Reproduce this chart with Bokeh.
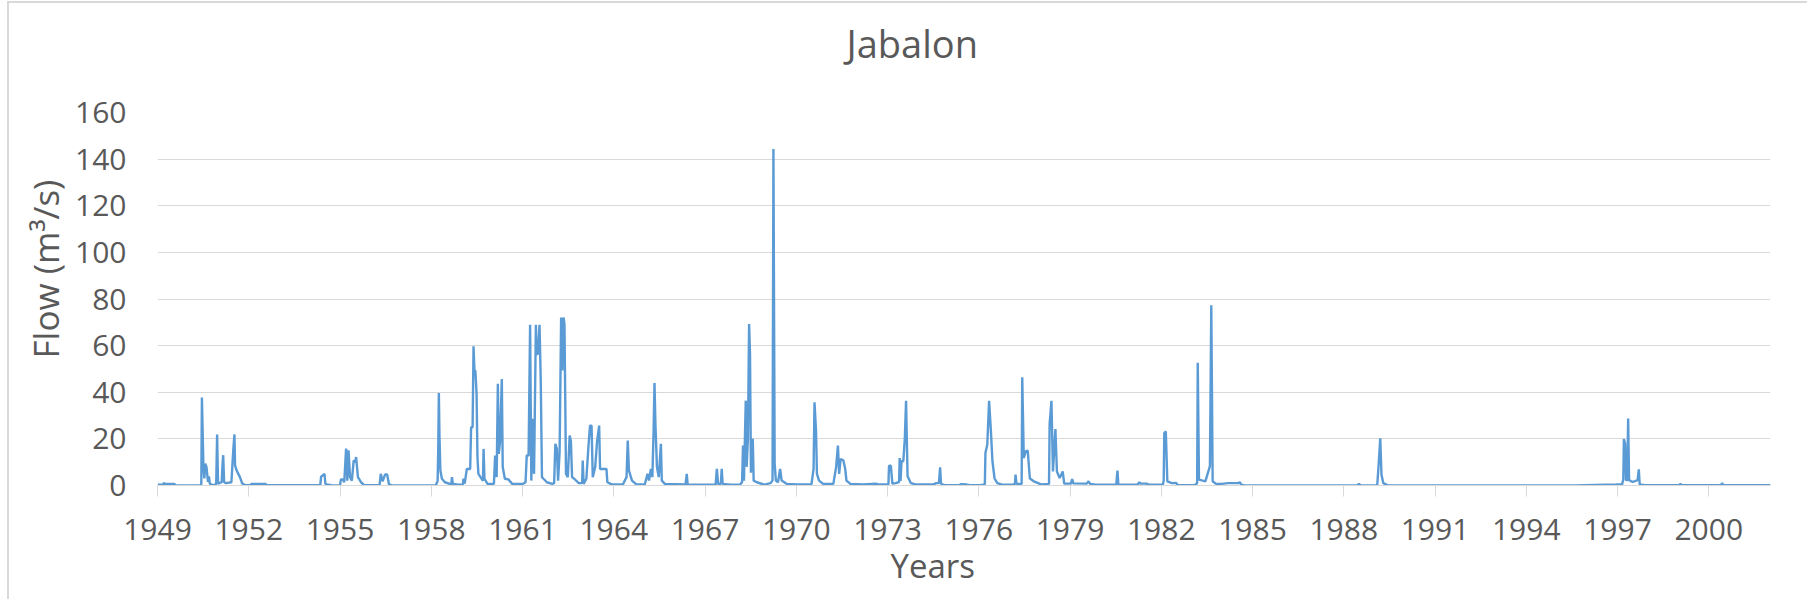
from bokeh.plotting import figure
from bokeh.models import Range1d, FixedTicker, Title
from bokeh.embed import file_html
from bokeh.resources import INLINE

# ---- data: decimal year and flow (m3/s), one event per row ----
years = [
    1949.00, 1949.18, 1949.20, 1949.25, 1949.55, 1949.60,
    1950.40, 1950.44, 1950.46, 1950.51, 1950.54, 1950.57, 1950.61, 1950.66, 1950.69, 1950.72, 1950.82,
    1950.93, 1950.96, 1950.99, 1951.11, 1951.14, 1951.16, 1951.19, 1951.25,
    1951.43, 1951.49, 1951.53, 1951.55, 1951.60, 1951.71, 1951.78, 1951.88,
    1952.05, 1952.09, 1952.55, 1952.60,
    1954.35, 1954.38, 1954.43, 1954.49, 1954.52, 1954.62, 1954.75,
    1955.00, 1955.03, 1955.09, 1955.14, 1955.20, 1955.24, 1955.28, 1955.33, 1955.39, 1955.45, 1955.49, 1955.53, 1955.59, 1955.69, 1955.80,
    1956.30, 1956.34, 1956.40, 1956.48, 1956.55, 1956.61, 1956.72,
    1958.15, 1958.21, 1958.23, 1958.25, 1958.27, 1958.30, 1958.35, 1958.45, 1958.66, 1958.68, 1958.71, 1958.90,
    1959.04, 1959.06, 1959.10, 1959.17, 1959.28, 1959.31, 1959.36, 1959.39, 1959.42, 1959.45, 1959.49, 1959.52, 1959.55, 1959.62, 1959.70, 1959.72, 1959.75, 1959.85,
    1960.06, 1960.10, 1960.15, 1960.19, 1960.22, 1960.26, 1960.32, 1960.35, 1960.42, 1960.54, 1960.66,
    1961.02, 1961.10, 1961.14, 1961.20, 1961.25, 1961.29, 1961.33, 1961.38, 1961.44, 1961.47, 1961.51, 1961.56, 1961.60, 1961.64, 1961.69, 1961.80,
    1961.98, 1962.04, 1962.08, 1962.13, 1962.17, 1962.22, 1962.27, 1962.31, 1962.35, 1962.38, 1962.43, 1962.49, 1962.55, 1962.59, 1962.63, 1962.70, 1962.85,
    1962.96, 1962.98, 1963.01, 1963.10, 1963.17, 1963.22, 1963.27, 1963.31, 1963.39, 1963.45, 1963.52, 1963.55, 1963.68, 1963.72, 1963.76, 1963.79, 1963.95,
    1964.30, 1964.42, 1964.46, 1964.50, 1964.60, 1964.75,
    1965.02, 1965.11, 1965.16, 1965.22, 1965.27, 1965.31, 1965.34, 1965.37, 1965.42, 1965.48, 1965.55, 1965.58, 1965.68,
    1966.36, 1966.40, 1966.43,
    1967.35, 1967.39, 1967.43, 1967.52, 1967.55, 1967.58, 1967.85,
    1968.15, 1968.22, 1968.25, 1968.28, 1968.34, 1968.37, 1968.41, 1968.45, 1968.48, 1968.51, 1968.57, 1968.60, 1968.70, 1968.95,
    1969.15, 1969.22, 1969.25, 1969.29, 1969.33, 1969.40, 1969.47, 1969.52, 1969.68, 1970.05,
    1970.50, 1970.57, 1970.60, 1970.65, 1970.68, 1970.75, 1970.88,
    1971.22, 1971.31, 1971.37, 1971.41, 1971.46, 1971.55, 1971.61, 1971.65, 1971.78,
    1972.20, 1972.62, 1972.70, 1972.95,
    1973.03, 1973.05, 1973.11, 1973.16, 1973.27, 1973.38, 1973.40, 1973.43, 1973.46, 1973.52, 1973.57, 1973.61, 1973.66, 1973.77, 1973.95,
    1974.50, 1974.60, 1974.69, 1974.73, 1974.76, 1974.90,
    1975.35, 1975.42, 1975.60, 1975.72,
    1976.05, 1976.20, 1976.22, 1976.28, 1976.34, 1976.40, 1976.45, 1976.52, 1976.61, 1976.80,
    1977.10, 1977.19, 1977.21, 1977.24, 1977.41, 1977.43, 1977.48, 1977.55, 1977.61, 1977.68, 1977.81,
    1978.05, 1978.31, 1978.33, 1978.39, 1978.44, 1978.52, 1978.57, 1978.66, 1978.76, 1978.81,
    1979.03, 1979.07, 1979.11, 1979.55, 1979.61, 1979.66, 1979.85,
    1980.52, 1980.56, 1980.59,
    1981.22, 1981.28, 1981.32, 1981.52, 1981.60,
    1982.05, 1982.08, 1982.10, 1982.15, 1982.20, 1982.35, 1982.49, 1982.55,
    1983.10, 1983.18, 1983.20, 1983.24, 1983.45, 1983.60, 1983.645, 1983.69, 1983.80, 1983.98,
    1984.20, 1984.54, 1984.58, 1984.63, 1984.75,
    1988.45, 1988.50, 1988.55,
    1989.10, 1989.14, 1989.20, 1989.24, 1989.30, 1989.45,
    1995.60, 1996.95, 1997.15, 1997.19, 1997.21, 1997.25, 1997.28, 1997.32, 1997.35, 1997.38, 1997.50, 1997.66, 1997.70, 1997.73, 1997.90,
    1999.02, 1999.07, 1999.12, 2000.40, 2000.44, 2000.48, 2002.03,
]
flow = [
    0.3, 0.3, 1.0, 0.7, 0.7, 0.1,
    0.05, 0.5, 37.7, 7.9, 3.0, 9.4, 8.0, 1.5, 3.9, 0.8, 0.1,
    0.6, 21.9, 0.8, 1.4, 9.4, 13.0, 1.4, 1.0,
    1.4, 15.0, 21.9, 8.6, 6.5, 3.6, 1.0, 0.1,
    0.1, 0.7, 0.7, 0.1,
    0.1, 3.9, 4.3, 5.0, 0.7, 0.3, 0.05,
    0.1, 2.6, 2.6, 1.4, 15.8, 2.1, 15.1, 3.6, 2.1, 10.8, 10.0, 12.2, 3.6, 1.4, 0.1,
    0.1, 5.0, 1.8, 4.7, 4.7, 0.5, 0.05,
    0.1, 2.0, 16.4, 39.7, 21.4, 6.4, 2.9, 1.4, 0.5, 3.6, 0.7, 0.3,
    0.5, 2.9, 0.8, 7.1, 7.1, 25.0, 25.0, 59.7, 49.3, 49.3, 39.3, 12.0, 5.0, 3.6, 2.0, 15.7, 2.9, 0.7,
    0.7, 12.9, 3.6, 43.6, 13.6, 18.6, 45.7, 7.9, 2.9, 2.6, 0.7,
    0.7, 1.4, 12.9, 12.9, 68.9, 2.1, 28.6, 5.0, 68.9, 56.4, 56.4, 68.9, 45.0, 3.6, 2.9, 1.4,
    0.7, 1.0, 17.9, 15.7, 2.1, 14.3, 72.1, 49.3, 72.1, 69.3, 5.0, 3.6, 21.4, 19.3, 3.6, 2.9, 1.0,
    1.0, 10.7, 0.7, 2.9, 17.1, 25.7, 25.7, 3.6, 7.9, 18.6, 25.7, 7.1, 7.1, 7.1, 7.1, 1.4, 0.4,
    0.4, 3.6, 19.3, 6.4, 2.1, 0.4,
    0.4, 5.0, 2.1, 7.1, 3.6, 23.6, 44.0, 26.4, 7.9, 3.6, 17.9, 2.1, 0.7,
    0.4, 5.0, 0.3,
    0.4, 7.1, 0.7, 0.7, 7.1, 0.7, 0.3,
    0.3, 1.5, 17.1, 2.0, 36.4, 8.0, 20.0, 69.3, 56.4, 5.5, 20.0, 2.1, 1.4, 0.4,
    1.0, 2.1, 144.3, 9.3, 2.1, 1.4, 7.1, 2.1, 0.7, 0.4,
    0.5, 7.1, 35.7, 23.6, 5.0, 2.1, 0.7,
    0.7, 7.9, 17.1, 5.0, 11.4, 10.7, 7.1, 2.1, 0.7,
    0.5, 0.8, 0.5, 0.4,
    0.4, 8.5, 8.5, 0.8, 1.0, 1.5, 11.8, 2.0, 10.4, 10.4, 20.3, 36.3, 4.0, 1.0, 0.4,
    0.4, 1.0, 1.1, 7.8, 0.7, 0.1,
    0.1, 0.6, 0.4, 0.1,
    0.1, 0.5, 14.0, 17.5, 36.3, 23.2, 10.4, 3.0, 1.0, 0.3,
    0.3, 0.7, 4.7, 0.7, 0.7, 46.4, 11.8, 14.7, 15.0, 3.0, 1.8,
    0.5, 0.7, 26.3, 36.3, 6.0, 24.2, 6.0, 3.2, 6.0, 0.8,
    0.8, 2.8, 0.9, 0.8, 1.8, 0.7, 0.3,
    0.3, 6.4, 0.3,
    0.3, 1.4, 0.8, 0.8, 0.3,
    0.3, 2.0, 22.5, 23.2, 1.8, 1.0, 1.1, 0.1,
    0.1, 1.0, 52.7, 2.5, 1.8, 8.3, 77.3, 1.8, 0.7, 0.7,
    1.0, 1.0, 1.5, 0.3, 0.05,
    0.05, 0.7, 0.05,
    0.1, 7.5, 20.2, 4.7, 1.0, 0.05,
    0.05, 0.4, 0.5, 2.5, 19.9, 18.0, 2.3, 2.3, 28.7, 2.3, 1.5, 2.3, 6.9, 0.5, 0.1,
    0.1, 0.7, 0.1, 0.1, 1.1, 0.1, 0.1,
]
assert len(years) == len(flow)

x_ticks = [1949, 1952, 1955, 1958, 1961, 1964, 1967, 1970, 1973, 1976,
           1979, 1982, 1985, 1988, 1991, 1994, 1997, 2000]
y_ticks = [0, 20, 40, 60, 80, 100, 120, 140, 160]
title_text = "Jabalon"
x_title = "Years"
y_title = "Flow (m³/s)"

TEXT = "#595959"
GRID = "#D9D9D9"
FONT = "Open Sans"

p = figure(
    width=1800, height=598,
    output_backend="svg", toolbar_location=None,
    x_range=Range1d(1949, 2002.03), y_range=Range1d(0, 160),
    min_border_left=148, min_border_right=39,
    min_border_top=109, min_border_bottom=116,
    background_fill_color="white", border_fill_color="white",
    outline_line_color=None,
)
p.styles = {"margin-left": "7px", "margin-top": "1px",
            "border-left": "2px solid #D9D9D9", "border-top": "2px solid #D9D9D9"}

p.line(years, flow, line_color="#5B9BD5", line_width=2.4)

# grid
p.xgrid.grid_line_color = None
p.ygrid.grid_line_color = GRID
p.ygrid.grid_line_width = 1

# x axis
xa = p.xaxis[0]
xa.ticker = FixedTicker(ticks=x_ticks)
xa.major_label_overrides = {t: str(t) for t in x_ticks}
xa.axis_line_color = GRID
xa.major_tick_line_color = GRID
xa.major_tick_in = 0
xa.major_tick_out = 11
xa.minor_tick_line_color = None
xa.major_label_text_font = FONT
xa.major_label_text_font_size = "30px"
xa.major_label_text_color = TEXT
xa.major_label_standoff = 22

# y axis
ya = p.yaxis[0]
ya.ticker = FixedTicker(ticks=y_ticks)
ya.axis_line_color = None
ya.major_tick_line_color = None
ya.minor_tick_line_color = None
ya.major_tick_in = 0
ya.major_tick_out = 0
ya.major_label_text_font = FONT
ya.major_label_text_font_size = "30px"
ya.major_label_text_color = TEXT
ya.major_label_standoff = 31

# chart title and axis titles (positioned like the original, relative to the chart area)
p.add_layout(Title(text=" ", text_font_size="10px", standoff=31), "above")
p.add_layout(Title(text=title_text, align="left", offset=689, vertical_align="bottom",
                   standoff=0, text_font=FONT, text_font_size="38px",
                   text_font_style="normal", text_color=TEXT), "above")
p.add_layout(Title(text=x_title, align="left", offset=733, vertical_align="top",
                   standoff=0, text_font=FONT, text_font_size="33px",
                   text_font_style="normal", text_color=TEXT), "below")
p.add_layout(Title(text=y_title, align="left", offset=127, vertical_align="bottom",
                   standoff=8, text_font=FONT, text_font_size="35px",
                   text_font_style="normal", text_color=TEXT), "left")

open("out.html", "w").write(file_html(p, INLINE))
